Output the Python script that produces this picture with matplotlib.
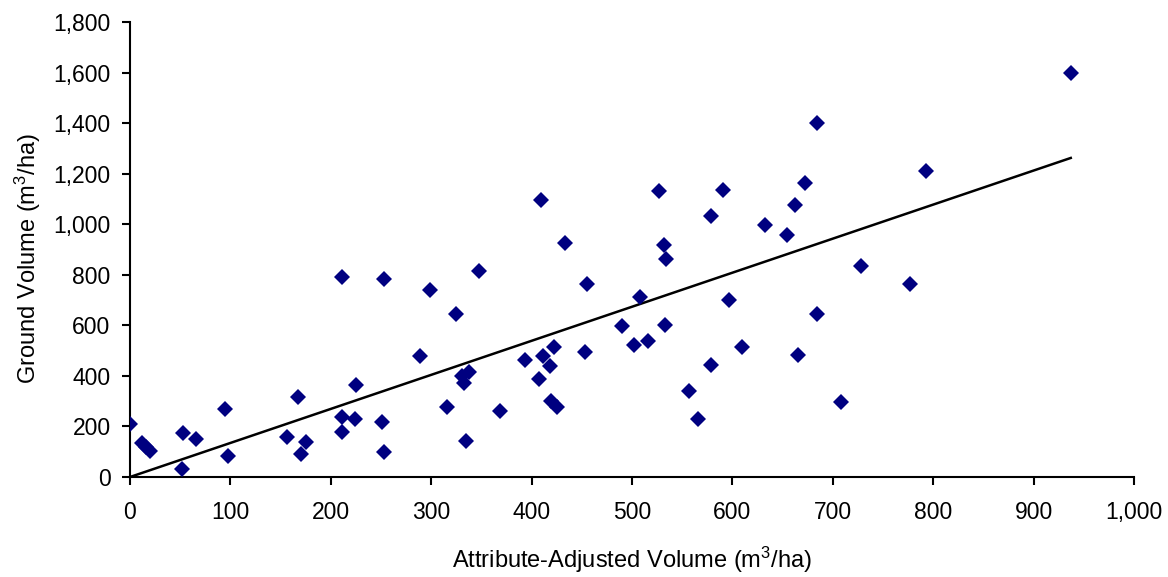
import numpy as np
import matplotlib
matplotlib.use("Agg")
from matplotlib import pyplot as plt

plt.rcParams['font.family'] = ['Liberation Sans', 'DejaVu Sans']
plt.rcParams['mathtext.default'] = 'regular'

# Attribute-adjusted volume vs ground volume (m3/ha)
attr_vol = [0, 12, 16, 20, 52, 53, 66, 95, 98, 156, 167, 170, 175, 211, 211, 211,
            224, 225, 251, 253, 253, 289, 299, 316, 325, 331, 338, 333, 335, 348,
            369, 393, 407, 409, 411, 418, 419, 422, 425, 433, 453, 455, 490, 502,
            508, 516, 527, 532, 533, 534, 557, 566, 579, 579, 591, 597, 610, 632,
            654, 662, 665, 672, 684, 684, 708, 728, 777, 793, 937]
ground_vol = [210, 136, 120, 104, 30, 173, 149, 269, 83, 157, 318, 90, 140, 790, 236, 177,
              228, 364, 216, 783, 99, 480, 739, 278, 645, 400, 414, 370, 144, 816,
              262, 462, 388, 1096, 479, 440, 300, 516, 278, 927, 496, 762, 599, 522,
              713, 539, 1131, 918, 603, 861, 340, 228, 444, 1033, 1135, 699, 515, 997,
              959, 1075, 484, 1164, 645, 1402, 295, 835, 765, 1212, 1598]

# trendline through the origin (slope)
trend_slope = 1.347

x = np.array(attr_vol, dtype=float)
y = np.array(ground_vol, dtype=float)
xt = np.array([0, x.max()])

fig = plt.figure(figsize=(11.68, 5.77), dpi=100)
ax = fig.add_axes([0.1113, 0.1733, 0.8596, 0.7886])

ax.plot(x, y, linestyle='none', marker='D', markersize=8, color='#000080',
        markeredgewidth=0, zorder=3)
ax.plot(xt, trend_slope * xt, color='black', linewidth=1.8, zorder=2)

ax.set_xlim(0, 1000)
ax.set_ylim(0, 1800)
ax.set_xticks(range(0, 1001, 100))
ax.set_yticks(range(0, 1801, 200))
ax.xaxis.set_major_formatter(matplotlib.ticker.StrMethodFormatter('{x:,.0f}'))
ax.yaxis.set_major_formatter(matplotlib.ticker.StrMethodFormatter('{x:,.0f}'))

for side in ['top', 'right']:
    ax.spines[side].set_visible(False)
for side in ['left', 'bottom']:
    ax.spines[side].set_linewidth(1.5)
ax.tick_params(axis='both', direction='out', length=6, width=1.5, labelsize=16.5)
ax.tick_params(axis='x', pad=11)
ax.tick_params(axis='y', pad=8)
ax.set_xlabel('Attribute-Adjusted Volume (m$^3$/ha)', fontsize=17, labelpad=15)
ax.set_ylabel('Ground Volume (m$^3$/ha)', fontsize=17, labelpad=10)
ax.yaxis.set_label_coords(-0.087, 0.48)

fig.savefig('out.png', dpi=100)
